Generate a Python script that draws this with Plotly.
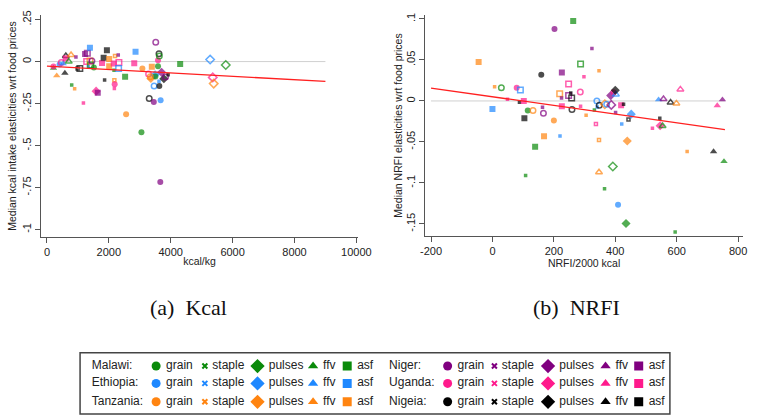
import plotly.graph_objects as go

# ---------------- data ----------------
COUNTRIES = ["Malawi", "Ethiopia", "Tanzania", "Niger", "Uganda", "Nigeia"]
COUNTRY_CODES = ["MW", "ET", "TZ", "NE", "UG", "NG"]
GROUPS = ["grain", "staple", "pulses", "ffv", "asf"]

# Panel (a): kcal/kg vs median kcal intake elasticity
kcal_x = [210, 210, 316, 410, 463, 526, 579, 610, 610, 705, 779, 800, 895, 937, 990,
          1063, 1179, 1232, 1305, 1284, 1337, 1389, 1389, 1411, 1453, 1516, 1589, 1642,
          1779, 1832, 1863, 1937, 2011, 2011, 2158, 2168, 2200, 2179, 2189, 2179, 2305,
          2326, 2316, 2526, 2558, 2821, 2863, 3053, 3084, 3284, 3305, 3358, 3389, 3453,
          3463, 3495, 3516, 3589, 3589, 3621, 3632, 3621, 3632, 3663, 3674, 3705, 3779,
          3832, 3916, 4305, 5274, 5358, 5389, 5779, 3505, 3340]
kcal_y = [-0.039, -0.029, -0.084, -0.018, -0.006, -0.012, -0.068, 0.033, 0.020, 0.000,
          0.039, -0.139, -0.162, 0.027, -0.041, -0.041, -0.246, 0.045, 0.049, 0.000,
          -0.031, 0.082, 0.004, -0.021, 0.004, -0.035, -0.176, -0.186, -0.008, 0.023,
          -0.109, 0.068, 0.016, -0.027, -0.012, -0.051, 0.033, -0.111, -0.135, -0.160,
          0.039, -0.006, -0.041, -0.090, -0.314, -0.010, 0.059, -0.420, -0.041, -0.074,
          -0.219, -0.100, -0.031, -0.240, -0.145, -0.078, 0.115, 0.008, -0.027, 0.047,
          0.033, -0.117, -0.145, -0.717, -0.230, -0.064, -0.102, -0.092, -0.078, -0.014,
          0.012, -0.094, -0.131, -0.020, -0.088, -0.090]
kcal_country = ["MW", "UG", "TZ", "ET", "UG", "ET", "NG", "NG", "UG", "MW", "TZ", "MW", "TZ",
                "NE", "NG", "NG", "UG", "NE", "NE", "UG", "ET", "ET", "TZ", "MW", "NE", "MW",
                "UG", "NE", "UG", "NG", "NG", "NG", "TZ", "TZ", "UG", "MW", "TZ", "TZ", "UG",
                "UG", "NE", "UG", "ET", "MW", "TZ", "UG", "ET", "MW", "TZ", "UG", "NG", "TZ",
                "TZ", "NE", "ET", "ET", "NE", "UG", "MW", "NG", "MW", "ET", "NG", "NE", "ET",
                "NE", "NG", "NE", "NG", "MW", "ET", "UG", "TZ", "MW", "MW", "TZ"]
kcal_group = ["ffv", "grain", "ffv", "grain", "grain", "ffv", "ffv", "ffv", "asf", "ffv", "ffv",
              "staple", "staple", "staple", "staple", "asf", "staple", "asf", "asf", "asf",
              "staple", "asf", "asf", "asf", "grain", "grain", "pulses", "asf", "asf", "asf",
              "staple", "asf", "asf", "asf", "asf", "staple", "staple", "staple", "grain",
              "staple", "staple", "asf", "asf", "asf", "grain", "asf", "asf", "grain", "grain",
              "grain", "grain", "pulses", "asf", "grain", "grain", "pulses", "grain", "grain",
              "grain", "grain", "grain", "staple", "grain", "grain", "grain", "pulses",
              "pulses", "grain", "staple", "asf", "pulses", "pulses", "pulses", "pulses",
              "grain", "grain"]
kcal_fill = ["f", "f", "f", "f", "o", "f", "f", "o", "f", "o", "o", "f", "f", "f", "o", "o",
             "f", "f", "o", "o", "f", "f", "o", "o", "o", "f", "f", "f", "f", "f", "f", "f",
             "f", "f", "f", "f", "o", "o", "f", "f", "f", "o", "o", "f", "f", "f", "f", "f",
             "f", "o", "o", "f", "f", "f", "o", "f", "o", "f", "f", "o", "o", "f", "f", "f",
             "f", "f", "f", "o", "f", "f", "o", "o", "o", "o", "f", "o"]

# Panel (b): NRFI/2000 kcal vs median NRFI elasticity
nrfi_x = [-45, 0, 7, 29, 49, 79, 91, 88, 102, 104, 115, 132, 108, 139, 159, 163, 166, 168,
          200, 202, 220, 219, 226, 225, 226, 248, 248, 255, 258, 259, 263, 286, 287, 287,
          298, 305, 324, 332, 337, 340, 341, 347, 347, 348, 347, 366, 372, 365, 385, 387,
          392, 394, 402, 401, 400, 409, 419, 427, 421, 439, 435, 443, 452, 521, 541, 545,
          546, 554, 557, 580, 595, 599, 612, 634, 720, 732, 749, 754]
nrfi_y = [0.0476, -0.0097, 0.0173, 0.0161, 0.0020, 0.0161, 0.0133, -0.0016, 0.0000, -0.0210,
          -0.0117, -0.0117, -0.0910, -0.0560, 0.0320, -0.0077, -0.0149, -0.0430, -0.0238,
          0.0879, -0.0427, 0.0089, 0.0347, 0.0036, -0.0065, 0.0206, 0.0065, 0.0097, 0.0036,
          -0.0105, 0.0975, 0.0109, 0.0451, -0.0065, 0.0294, -0.0173, 0.0641, -0.0109,
          -0.0282, 0.0000, -0.0073, 0.0367, -0.0476, -0.0052, -0.0870, -0.0040, -0.0040,
          -0.1070, 0.0065, -0.0048, -0.0800, 0.0105, 0.0080, -0.0141, 0.0129, -0.1265,
          -0.0052, -0.0040, -0.0282, -0.0488, -0.1495, -0.0226, -0.0161, -0.0334, 0.0016,
          -0.0210, -0.0302, -0.0306, 0.0024, -0.0020, -0.1600, -0.0030, 0.0141, -0.0617,
          -0.0617, -0.0056, 0.0016, -0.0738]
nrfi_country = ["TZ", "ET", "TZ", "MW", "UG", "UG", "ET", "NG", "UG", "NG", "MW", "TZ", "MW",
                "MW", "NG", "NE", "NE", "TZ", "TZ", "NE", "ET", "TZ", "NE", "NE", "UG", "UG",
                "NE", "NG", "NG", "NG", "MW", "UG", "MW", "UG", "UG", "TZ", "NE", "MW", "UG",
                "ET", "ET", "TZ", "TZ", "NG", "TZ", "TZ", "ET", "MW", "NE", "NE", "MW", "UG",
                "ET", "NE", "NG", "ET", "UG", "NG", "ET", "TZ", "MW", "NG", "ET", "UG", "ET",
                "NG", "UG", "MW", "NE", "NG", "MW", "TZ", "UG", "TZ", "NG", "UG", "NE", "MW"]
nrfi_group = ["asf", "asf", "staple", "grain", "staple", "grain", "asf", "staple", "asf", "asf",
              "grain", "grain", "staple", "asf", "grain", "staple", "grain", "asf", "grain",
              "grain", "staple", "asf", "asf", "staple", "asf", "asf", "asf", "staple", "asf",
              "grain", "asf", "grain", "asf", "staple", "staple", "staple", "staple", "staple",
              "staple", "grain", "staple", "staple", "staple", "grain", "ffv", "pulses",
              "grain", "staple", "pulses", "pulses", "pulses", "grain", "ffv", "staple",
              "pulses", "grain", "asf", "staple", "staple", "pulses", "pulses", "staple",
              "pulses", "staple", "ffv", "staple", "pulses", "ffv", "ffv", "ffv", "staple",
              "ffv", "ffv", "staple", "ffv", "ffv", "ffv", "ffv"]
nrfi_fill = ["f", "f", "f", "o", "f", "f", "o", "f", "f", "f", "f", "o", "f", "f", "f", "f",
             "o", "f", "f", "f", "f", "o", "f", "f", "f", "o", "o", "f", "o", "o", "f", "o",
             "o", "f", "f", "f", "f", "f", "o", "o", "f", "f", "o", "o", "o", "o", "o", "f",
             "f", "o", "o", "f", "o", "f", "f", "f", "f", "f", "f", "f", "f", "o", "f", "f",
             "f", "f", "f", "o", "o", "o", "f", "o", "o", "f", "f", "f", "f", "f"]

# fitted lines (linear fit end points) and zero reference lines
kcal_fit_x = [0, 9000]
kcal_fit_y = [-0.027, -0.118]
nrfi_fit_x = [-200, 757]
nrfi_fit_y = [0.0157, -0.035]
kcal_ref_x = [0, 9000]
nrfi_ref_x = [-200, 757]
ref_y = [0, 0]

kcal_ticks = [0.25, 0, -0.25, -0.5, -0.75, -1]
kcal_ticklabels = [".25", "0", "-.25", "-.5", "-.75", "-1"]
nrfi_ticks = [0.1, 0.05, 0, -0.05, -0.1, -0.15]
nrfi_ticklabels = [".1", ".05", "0", "-.05", "-.1", "-.15"]
kcalx_ticks = [0, 2000, 4000, 6000, 8000, 10000]
kcalx_ticklabels = ["0", "2000", "4000", "6000", "8000", "10000"]
nrfix_ticks = [-200, 0, 200, 400, 600, 800]
nrfix_ticklabels = ["-200", "0", "200", "400", "600", "800"]

# ---------------- styles ----------------
COLOR = {"MW": "#0a8a0a", "ET": "#1e88ff", "TZ": "#ff8410", "NE": "#800080",
         "UG": "#ff1a8c", "NG": "#000000"}
SYMBOL = {"grain": "circle", "staple": "square", "pulses": "diamond",
          "ffv": "triangle-up", "asf": "square"}
SIZE = {"grain": 6, "staple": 3.5, "pulses": 7, "ffv": 6.5, "asf": 6}
LEG_SYMBOL = {"grain": "circle", "staple": "x-thin", "pulses": "diamond",
              "ffv": "triangle-up", "asf": "square"}
LEG_SIZE = {"grain": 9, "staple": 5, "pulses": 11, "ffv": 9, "asf": 9}

AXIS_COLOR = "#555555"
FONT = "Liberation Sans, Arial, sans-serif"
LEG_FONT = "Liberation Sans Narrow, Arial Narrow, Liberation Sans, sans-serif"
CAP_FONT = "Liberation Serif, serif"


def marker_style(countries, groups, fills):
    colors, symbols, sizes, lw = [], [], [], []
    for c, g, f in zip(countries, groups, fills):
        colors.append(COLOR[c])
        s = SYMBOL[g]
        if f == "o":
            s += "-open"
            lw.append(1.5)
        else:
            lw.append(0)
        symbols.append(s)
        sizes.append(SIZE[g] if f == "f" else SIZE[g] - 0.5)
    return dict(color=colors, symbol=symbols, size=sizes,
                line=dict(width=lw, color=colors))


fig = go.Figure()

# Panel (a)
fig.add_trace(go.Scatter(x=kcal_ref_x, y=ref_y, mode="lines", xaxis="x", yaxis="y",
                         line=dict(color="#d0d0d0", width=1), showlegend=False, hoverinfo="skip"))
fig.add_trace(go.Scatter(x=kcal_x, y=kcal_y, mode="markers", xaxis="x", yaxis="y",
                         marker=marker_style(kcal_country, kcal_group, kcal_fill),
                         showlegend=False))
fig.add_trace(go.Scatter(x=kcal_fit_x, y=kcal_fit_y, mode="lines", xaxis="x", yaxis="y",
                         line=dict(color="#ff2020", width=1.3), showlegend=False))

# Panel (b)
fig.add_trace(go.Scatter(x=nrfi_ref_x, y=ref_y, mode="lines", xaxis="x2", yaxis="y2",
                         line=dict(color="#d0d0d0", width=1), showlegend=False, hoverinfo="skip"))
fig.add_trace(go.Scatter(x=nrfi_x, y=nrfi_y, mode="markers", xaxis="x2", yaxis="y2",
                         marker=marker_style(nrfi_country, nrfi_group, nrfi_fill),
                         showlegend=False))
fig.add_trace(go.Scatter(x=nrfi_fit_x, y=nrfi_fit_y, mode="lines", xaxis="x2", yaxis="y2",
                         line=dict(color="#ff2020", width=1.3), showlegend=False))

# ---------------- custom legend (own axes) ----------------
# legend layout: pixel offsets inside the legend box
LEG_LABEL_X = [12, 317]
LEG_MARK_X = [[78, 128, 182, 239, 274], [377, 425, 480, 539, 573]]
LEG_ROW_Y = [2.35, 1.5, 0.6]
for i, code in enumerate(COUNTRY_CODES):
    block, row = divmod(i, 3)
    yrow = LEG_ROW_Y[row]
    fig.add_trace(go.Scatter(x=[LEG_LABEL_X[block]], y=[yrow], mode="text",
                             text=[COUNTRIES[i] + ":"], textposition="middle right",
                             textfont=dict(family=LEG_FONT, size=12, color="#222"),
                             xaxis="x3", yaxis="y3", showlegend=False, hoverinfo="skip"))
    for j, g in enumerate(GROUPS):
        xm = LEG_MARK_X[block][j]
        fig.add_trace(go.Scatter(
            x=[xm], y=[yrow], mode="markers+text", text=[" " + g], textposition="middle right",
            textfont=dict(family=LEG_FONT, size=12, color="#222"),
            marker=dict(symbol=LEG_SYMBOL[g], size=LEG_SIZE[g], color=COLOR[code],
                        line=dict(width=2 if g == "staple" else 0, color=COLOR[code])),
            xaxis="x3", yaxis="y3", showlegend=False, hoverinfo="skip"))

W, H = 758, 417


def dom_x(a, b):
    return [a / W, b / W]


def dom_y(top, bottom):
    return [(H - bottom) / H, (H - top) / H]


axis_common = dict(showline=True, linecolor=AXIS_COLOR, linewidth=1, ticks="outside",
                   ticklen=5, tickcolor=AXIS_COLOR, showgrid=False, zeroline=False,
                   tickfont=dict(family=FONT, size=11, color="#222"), mirror=False)

fig.update_layout(
    width=W, height=H, margin=dict(l=0, r=0, t=0, b=0),
    paper_bgcolor="white", plot_bgcolor="white", showlegend=False,
    font=dict(family=FONT, color="#222"),
    xaxis=dict(domain=dom_x(37, 362), range=[-190, 10050], tickvals=kcalx_ticks,
               ticktext=kcalx_ticklabels,
               title=dict(text="kcal/kg", font=dict(size=10.5), standoff=0), anchor="y",
               **axis_common),
    yaxis=dict(domain=dom_y(10, 235), range=[-1.045, 0.278], tickvals=kcal_ticks,
               ticktext=kcal_ticklabels, tickangle=-90, anchor="x",
               title=dict(text="Median kcal intake elasticities wrt food prices",
                          font=dict(size=10.5), standoff=1),
               **axis_common),
    xaxis2=dict(domain=dom_x(431, 757), range=[-219, 816], tickvals=nrfix_ticks,
                ticktext=nrfix_ticklabels,
                title=dict(text="NRFI/2000 kcal", font=dict(size=10.5), standoff=0),
                anchor="y2", **axis_common),
    yaxis2=dict(domain=dom_y(10, 234), range=[-0.165, 0.105], tickvals=nrfi_ticks,
                ticktext=nrfi_ticklabels, tickangle=-90, anchor="x2",
                title=dict(text="Median NRFI elasticities wrt food prices",
                           font=dict(size=10.5), standoff=0),
                **axis_common),
    xaxis3=dict(domain=dom_x(77, 682), range=[0, 605], visible=False, fixedrange=True,
                anchor="y3"),
    yaxis3=dict(domain=dom_y(352, 414), range=[0, 3], visible=False, fixedrange=True,
                anchor="x3"),
    shapes=[dict(type="rect", xref="x3 domain", yref="y3 domain", x0=0, x1=1, y0=0, y1=1,
                 line=dict(color="#444", width=1.5), fillcolor="rgba(0,0,0,0)")],
    annotations=[
        dict(text="(a)  Kcal", x=188 / W, y=(H - 306) / H, xref="paper", yref="paper",
             xanchor="center", yanchor="middle", showarrow=False,
             font=dict(family=CAP_FONT, size=22, color="#111")),
        dict(text="(b)  NRFI", x=586 / W, y=(H - 306) / H, xref="paper", yref="paper",
             xanchor="center", yanchor="middle", showarrow=False,
             font=dict(family=CAP_FONT, size=22, color="#111")),
    ],
)

fig.write_html("out.html")
